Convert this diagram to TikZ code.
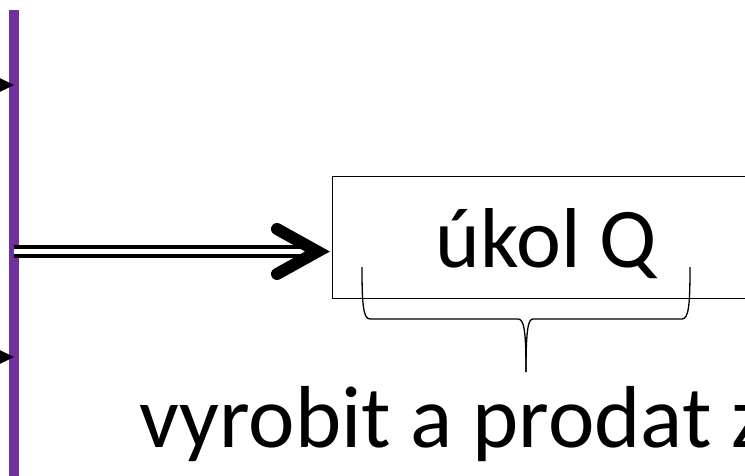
\documentclass[tikz,border=0pt]{standalone}
\usepackage{fontspec}
\setmainfont{Carlito}
\usetikzlibrary{arrows.meta,positioning}
\definecolor{barpurple}{HTML}{7030A0}

\begin{document}
\begin{tikzpicture}[x=1pt,y=-1pt,
    inarrow/.style={-{Triangle[length=20pt,width=19pt]},line width=2pt},
    dblline/.style={double=white,double distance=5.5pt,line width=3.8pt},
    chevron/.style={line width=12pt,line cap=round,line join=miter},
    bigtext/.style={inner sep=0pt}]
  \useasboundingbox (0,0) rectangle (745,475);
  % purple bar
  \draw[barpurple,line width=10pt] (14,10) coordinate (bartop) -- (14,490) coordinate (barbot);
  % arrows coming in from the left
  \coordinate (inA) at (14,85);
  \coordinate (inB) at (14,357);
  \draw[inarrow] (-40,85) -- (inA);
  \draw[inarrow] (-40,357) -- (inB);
  % task box
  \node[draw,line width=1.4pt,minimum width=500pt,minimum height=122pt,anchor=north west] (task) at (332,176) {};
  \node[bigtext,font=\fontsize{85}{100}\selectfont,anchor=base] (taskname) at (546.5,267) {úkol Q};
  % double arrow into the box
  \coordinate (tip) at (330,251.5);
  \coordinate (start) at (14,251.5);
  \draw[dblline] (start) -- ([xshift=-28pt]tip);
  \draw[chevron] ([xshift=-53pt,yshift=-22.5pt]tip) -- ([xshift=-12.5pt]tip) -- ([xshift=-53pt,yshift=22.5pt]tip);
  % brace
  \draw[line width=1.3pt] (362,267) .. controls (362,303) and (363,319) .. (370,319) -- (518,319)
    .. controls (524,319) and (526,330) .. (526,372);
  \draw[line width=1.3pt] (690,267) .. controls (690,303) and (689,319) .. (682,319) -- (533,319)
    .. controls (528,319) and (526,330) .. (526,372) coordinate (bracetip);
  \node[bigtext,font=\fontsize{88}{100}\selectfont,anchor=base west] (goal) at (139,447) {vyrobit a prodat z};
\end{tikzpicture}
\end{document}
